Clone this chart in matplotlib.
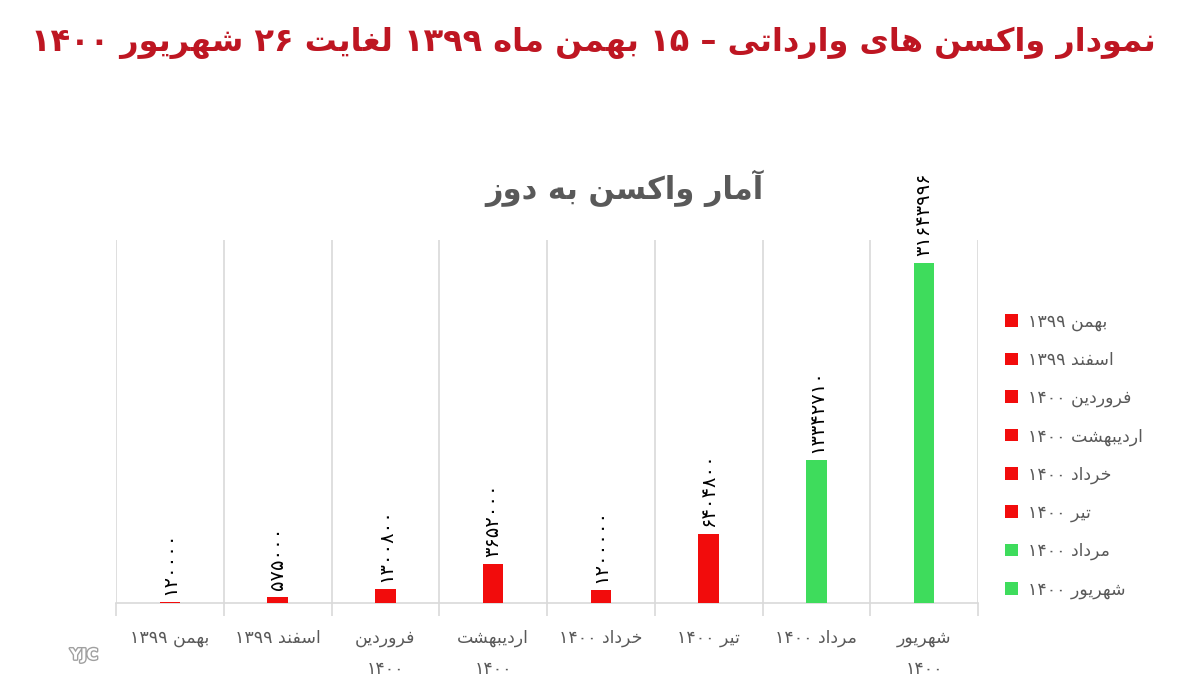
import matplotlib
matplotlib.use("Agg")
import matplotlib.pyplot as plt
import matplotlib.patheffects as pe

# ---------------- data ----------------
title_text = "نمودار واکسن های وارداتی – ۱۵ بهمن ماه ۱۳۹۹ لغایت ۲۶ شهریور ۱۴۰۰"
subtitle_text = "آمار واکسن به دوز"
categories = ["بهمن ۱۳۹۹", "اسفند ۱۳۹۹", "فروردین ۱۴۰۰", "اردیبهشت ۱۴۰۰",
              "خرداد ۱۴۰۰", "تیر ۱۴۰۰", "مرداد ۱۴۰۰", "شهریور ۱۴۰۰"]
tick_labels = ["بهمن ۱۳۹۹", "اسفند ۱۳۹۹", "فروردین\n۱۴۰۰", "اردیبهشت\n۱۴۰۰",
               "خرداد ۱۴۰۰", "تیر ۱۴۰۰", "مرداد ۱۴۰۰", "شهریور\n۱۴۰۰"]
doses = [120000, 575000, 1300800, 3652000, 1200000, 6404800, 13342710, 31643996]
groups = ["red", "red", "red", "red", "red", "red", "green", "green"]

RED = "#F20C0C"
GREEN = "#3EDC5C"
color_map = {"red": RED, "green": GREEN}

# ---------------- Persian shaping helpers ----------------
FORMS = {  # isolated, final, initial, medial
    'ا': ('\uFE8D', '\uFE8E', None, None),
    'آ': ('\uFE81', '\uFE82', None, None),
    'ب': ('\uFE8F', '\uFE90', '\uFE91', '\uFE92'),
    'ت': ('\uFE95', '\uFE96', '\uFE97', '\uFE98'),
    'خ': ('\uFEA5', '\uFEA6', '\uFEA7', '\uFEA8'),
    'د': ('\uFEA9', '\uFEAA', None, None),
    'ر': ('\uFEAD', '\uFEAE', None, None),
    'ز': ('\uFEAF', '\uFEB0', None, None),
    'س': ('\uFEB1', '\uFEB2', '\uFEB3', '\uFEB4'),
    'ش': ('\uFEB5', '\uFEB6', '\uFEB7', '\uFEB8'),
    'غ': ('\uFECD', '\uFECE', '\uFECF', '\uFED0'),
    'ف': ('\uFED1', '\uFED2', '\uFED3', '\uFED4'),
    'ل': ('\uFEDD', '\uFEDE', '\uFEDF', '\uFEE0'),
    'م': ('\uFEE1', '\uFEE2', '\uFEE3', '\uFEE4'),
    'ن': ('\uFEE5', '\uFEE6', '\uFEE7', '\uFEE8'),
    'ه': ('\uFEE9', '\uFEEA', '\uFEEB', '\uFEEC'),
    'و': ('\uFEED', '\uFEEE', None, None),
    'ک': ('\uFB8E', '\uFB8F', '\uFB90', '\uFB91'),
    'ی': ('\uFBFC', '\uFBFD', '\uFBFE', '\uFBFF'),
}


def shape_word(w):
    out = []
    n = len(w)
    for i, c in enumerate(w):
        if c not in FORMS:
            out.append(c)
            continue
        prev = w[i - 1] if i > 0 else None
        nxt = w[i + 1] if i < n - 1 else None
        jp = prev in FORMS and FORMS[prev][2] is not None
        jn = nxt in FORMS and FORMS[c][2] is not None
        f = FORMS[c]
        if jp and jn:
            out.append(f[3])
        elif jp:
            out.append(f[1])
        elif jn:
            out.append(f[2])
        else:
            out.append(f[0])
    return "".join(out)


def fa_line(s):
    toks = s.split(" ")
    res = []
    for t in toks:
        if any(ch in FORMS for ch in t):
            res.append(shape_word(t)[::-1])
        else:
            res.append(t)
    return " ".join(res[::-1])


def fa(s):
    return "\n".join(fa_line(l) for l in s.split("\n"))


PDIG = str.maketrans("0123456789", "۰۱۲۳۴۵۶۷۸۹")

# ---------------- figure ----------------
plt.rcParams['font.family'] = ['DejaVu Sans']
fig = plt.figure(figsize=(11.86, 6.96), dpi=100)
fig.patch.set_facecolor("white")

ax = fig.add_axes([116 / 1186, 1 - 603 / 696, (978 - 116) / 1186, (603 - 240) / 696])

x = list(range(len(categories)))
for i, (cat, v, g) in enumerate(zip(categories, doses, groups)):
    ax.bar(i, v, width=0.19, color=color_map[g], label=fa(cat), zorder=3)
    ax.annotate(str(v).translate(PDIG), (i, v), xytext=(0, 5), textcoords="offset points",
                rotation=90, ha="center", va="bottom", fontsize=14, color="black")

ax.set_xlim(-0.5, len(categories) - 0.5)
ax.set_ylim(0, 33.8e6)
ax.set_yticks([])
for s in ["left", "right", "top"]:
    ax.spines[s].set_visible(False)
ax.spines["bottom"].set_color("#D9D9D9")
ax.spines["bottom"].set_linewidth(1.2)

ax.set_xticks(x)
ax.set_xticklabels([fa(t) for t in tick_labels], fontsize=12.5, color="#595959", linespacing=1.9)
ax.tick_params(axis="x", which="major", length=0, pad=19)
ax.set_xticks([i - 0.5 for i in range(len(categories) + 1)], minor=True)
ax.tick_params(axis="x", which="minor", length=9, color="#D9D9D9", width=1.2)
ax.grid(axis="x", which="minor", color="#D9D9D9", linewidth=1.2, zorder=0)
ax.set_axisbelow(True)

# titles
fig.text(0.5, 1 - 43 / 696, fa(title_text), ha="center", va="center", fontsize=23,
         fontweight="bold", color="#BE1622")
fig.text(624 / 1186, 1 - 188 / 696, fa(subtitle_text), ha="center", va="center", fontsize=22,
         fontweight="bold", color="#595959")

# legend
leg = fig.legend(loc="upper left", bbox_to_anchor=(989 / 1186, 1 - 297 / 696), frameon=False,
                 fontsize=12.5, handlelength=0.75, handleheight=0.75, handletextpad=0.6,
                 labelspacing=1.15, labelcolor="#595959")

# watermark
fig.text(70 / 1186, 1 - 655 / 696, "YJC", ha="left", va="center", fontsize=11, fontweight="bold",
         color="white", path_effects=[pe.withStroke(linewidth=2, foreground="#A0A0A0")])

fig.savefig("out.png", dpi=100)
